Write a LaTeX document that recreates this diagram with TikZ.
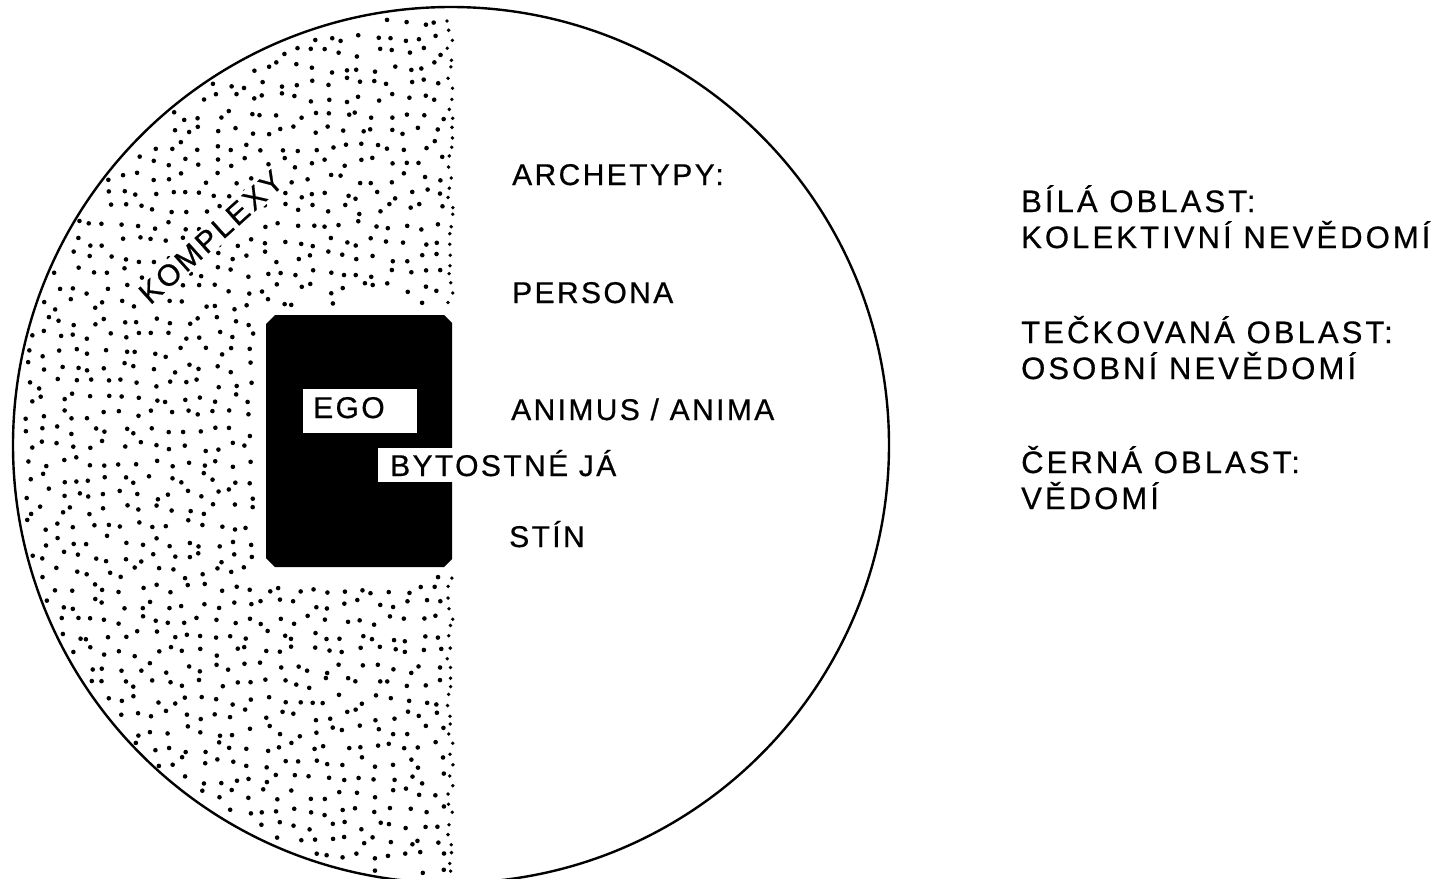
\documentclass[tikz,border=0pt]{standalone}
\usepackage{fontspec}
\newfontfamily\lbfont[LetterSpace=8,FakeBold=0.6]{Liberation Sans}
\newfontfamily\lgfont[LetterSpace=10,FakeBold=0.6]{Liberation Sans}
\tikzset{
  lbl/.style={font=\lbfont\fontsize{30}{36}\selectfont, inner sep=0pt, anchor=base west, text=black},
  leg/.style={font=\lgfont\fontsize{31}{36}\selectfont, inner sep=0pt, anchor=base west, text=black},
  dot/.style={fill=black},
}
\begin{document}
\begin{tikzpicture}[x=1pt,y=-1pt]
\useasboundingbox (0,0) rectangle (1439,878);
\fill[white] (0,0) rectangle (1439,878);
% stippled region (personal unconscious)
\pgfmathsetseed{11}
\foreach \gx in {0,...,28} {
  \foreach \gy in {0,...,55} {
    \pgfmathsetmacro\px{12+\gx*15.8+rand*5.5}
    \pgfmathsetmacro\py{4+\gy*15.8+rand*5.5}
    \pgfmathtruncatemacro\inside{((\px-451)/100)^2+((\py-445)/100)^2 < 18.85 && \px < 446 && !(\px>258 && \py>305 && \py<577) ? 1 : 0}
    \ifnum\inside=1 \fill[dot] (\px,\py) circle[radius=2.3pt]; \fi
  }
}
\foreach \k in {0,...,90} {
  \pgfmathsetmacro\px{450+rand*3}
  \pgfmathsetmacro\py{10+\k*9.8+rand*2}
  \pgfmathtruncatemacro\inside{((\px-451)/100)^2+((\py-445)/100)^2 < 18.85 && !(\py>305 && \py<577) ? 1 : 0}
  \ifnum\inside=1 \fill[dot] (\px,\py) circle[radius=1.9pt]; \fi
}
% outer circle
\draw[line width=2.4pt] (451,445) circle[radius=438pt];
% conscious (black) area
\fill[black] (275,315) -- (444,315) -- (452,323) -- (452,559) -- (444,567) -- (275,567) -- (266,558) -- (266,324) -- cycle;
\fill[white] (303,389) rectangle (417,433);
\fill[white] (378,448) rectangle (456,482);
% labels inside circle
\node[lbl, anchor=center, rotate=42, fill=white, inner sep=2pt] (komplexy) at (211,237) {KOMPLEXY};
\node[lbl] (ego) at (313,418) {EGO};
\node[lbl] (self) at (390,476) {BYTOSTNÉ JÁ};
\node[lbl] (arch) at (512,185) {ARCHETYPY:};
\node[lbl] (persona) at (512,303) {PERSONA};
\node[lbl] (anima) at (511,420) {ANIMUS / ANIMA};
\node[lbl] (stin) at (509,547) {STÍN};
% legend
\node[leg] (l1a) at (1021,212) {BÍLÁ OBLAST:};
\node[leg] (l1b) at (1021,248) {KOLEKTIVNÍ NEVĚDOMÍ};
\node[leg] (l2a) at (1021,343) {TEČKOVANÁ OBLAST:};
\node[leg] (l2b) at (1021,379) {OSOBNÍ NEVĚDOMÍ};
\node[leg] (l3a) at (1021,473) {ČERNÁ OBLAST:};
\node[leg] (l3b) at (1021,509) {VĚDOMÍ};
\end{tikzpicture}
\end{document}
